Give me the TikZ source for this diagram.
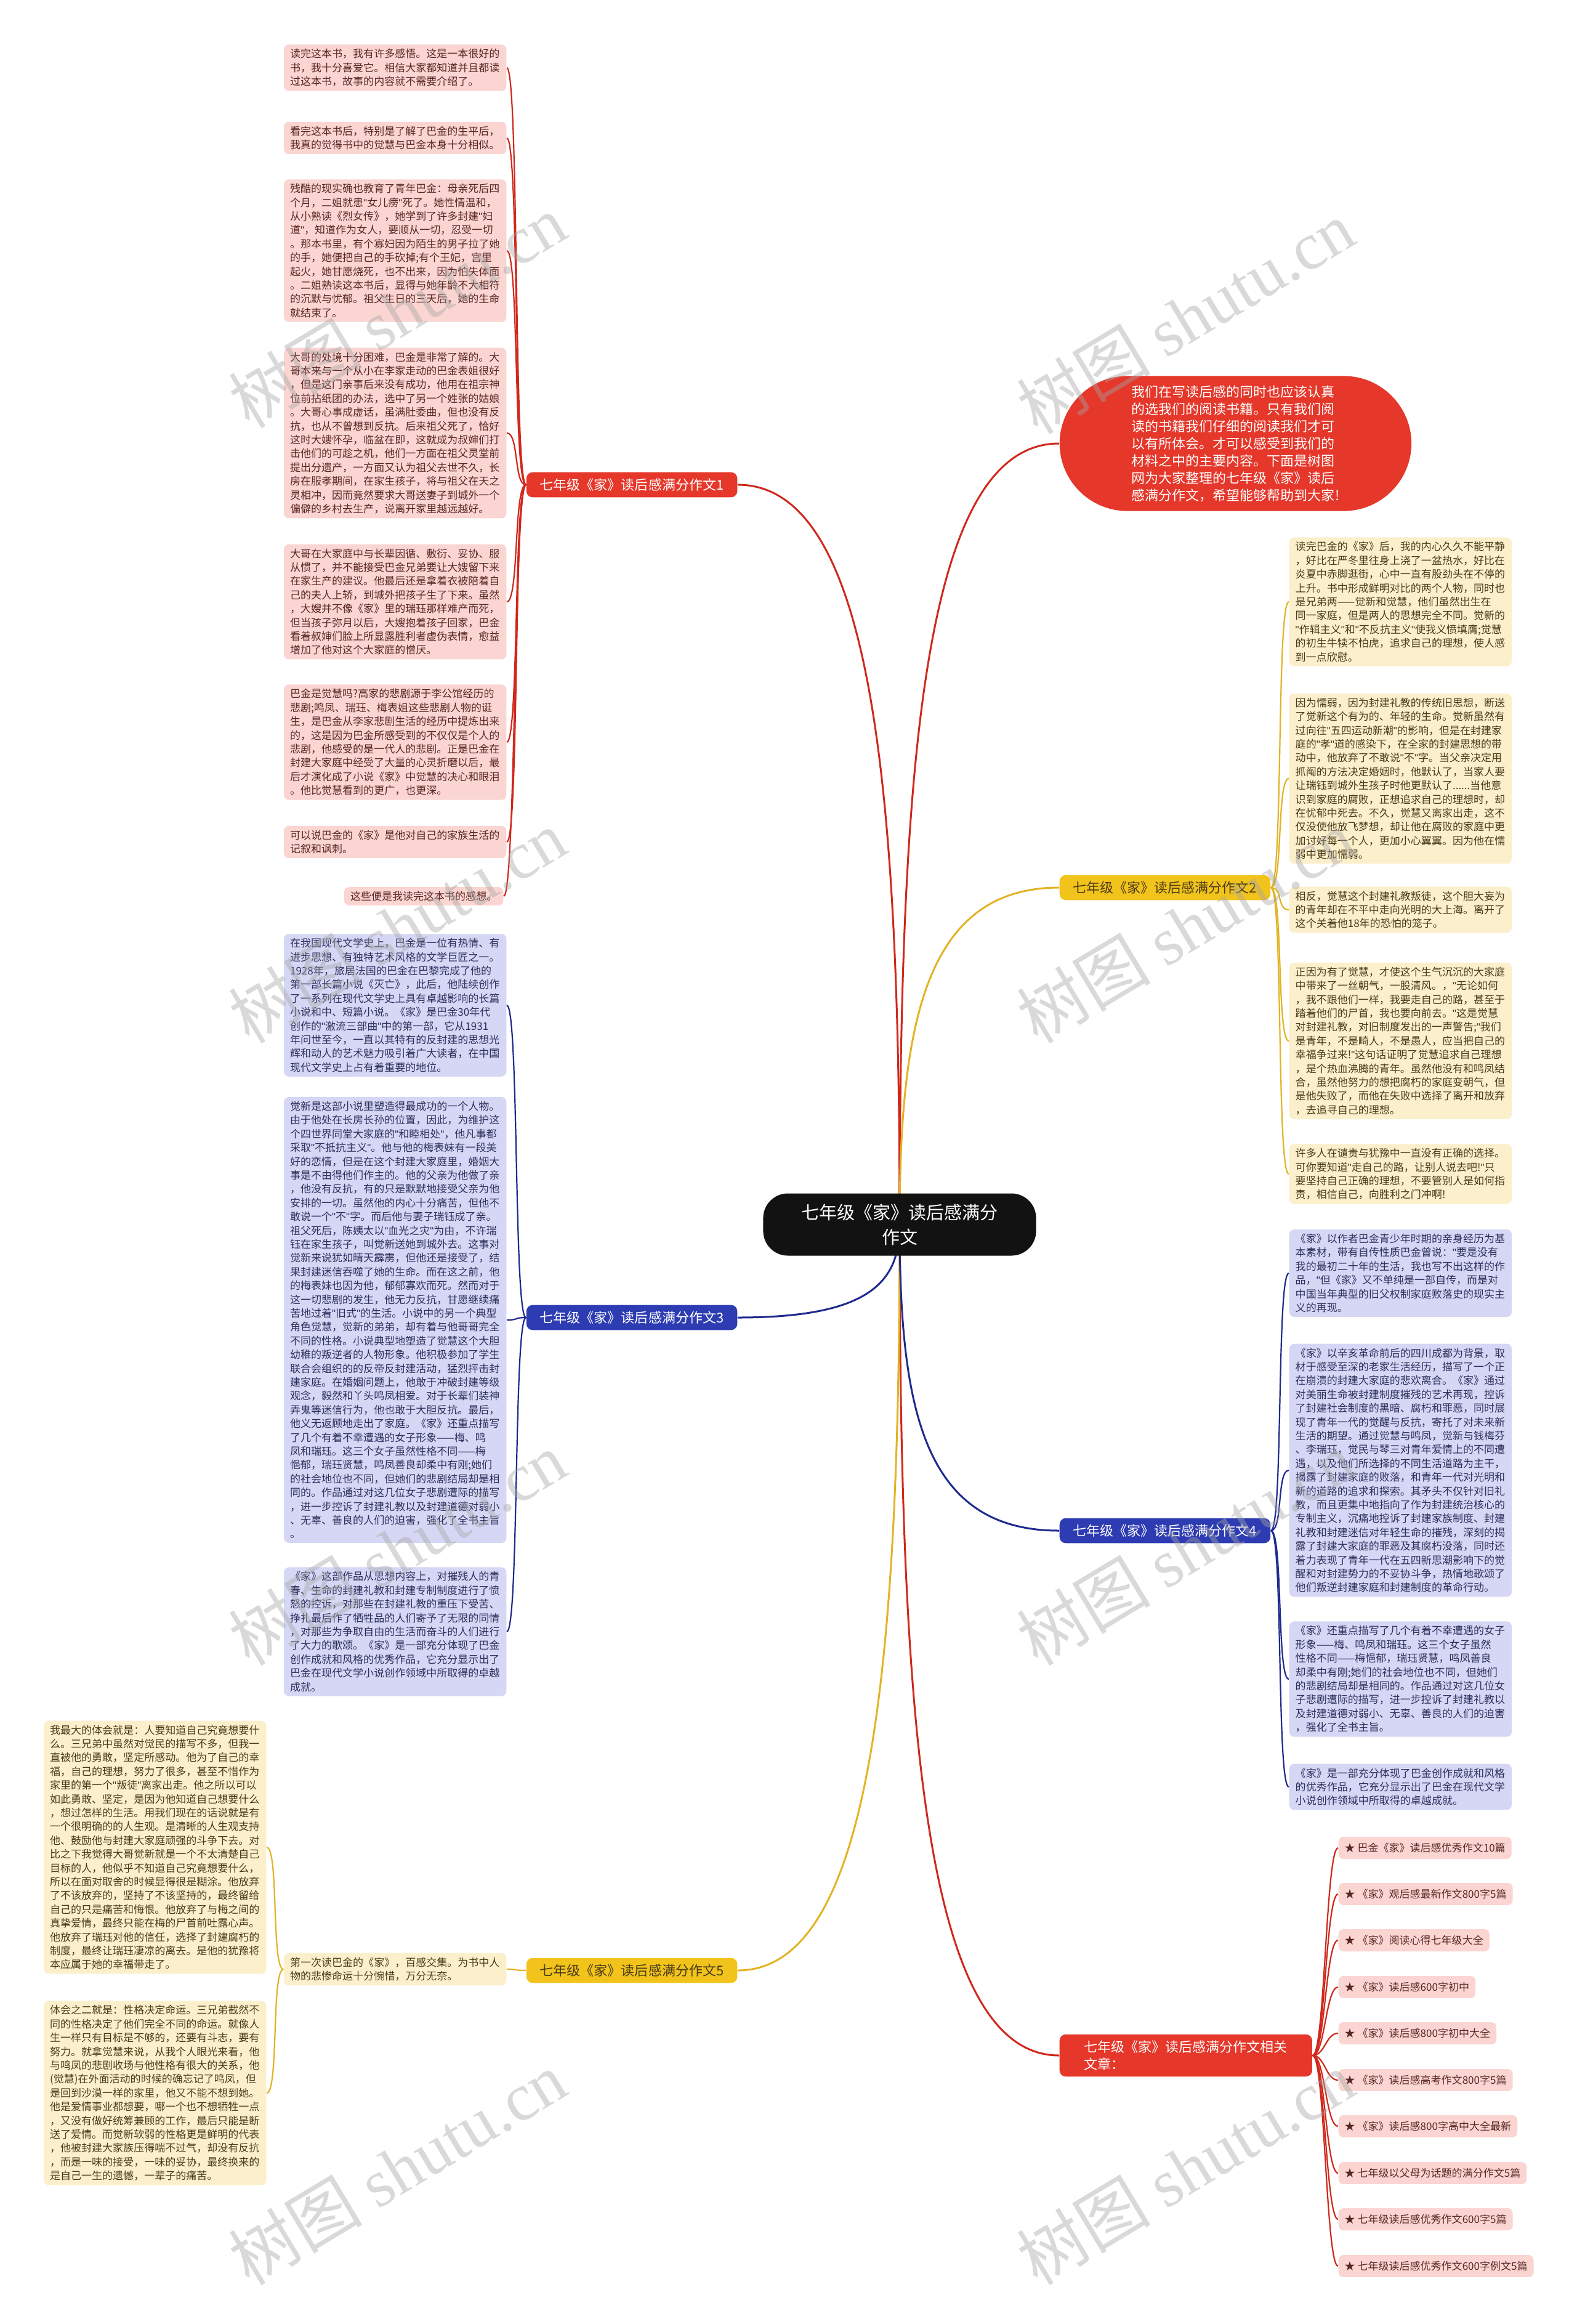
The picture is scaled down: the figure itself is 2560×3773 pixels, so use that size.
\documentclass[tikz,border=0pt]{standalone}
\usepackage{fontspec}
\setmainfont{Noto Sans CJK SC}
\newfontfamily\wmfont{Liberation Serif}
\newfontfamily\latinfont{Liberation Sans}
\usepackage{xcolor}
\usetikzlibrary{positioning,backgrounds}
\definecolor{hred}{HTML}{E5372A}
\definecolor{lred}{HTML}{D0281C}
\definecolor{pinkbg}{HTML}{FAD5D2}
\definecolor{pinktx}{HTML}{5A2724}
\definecolor{hblue}{HTML}{2E3CB3}
\definecolor{lblue}{HTML}{1E2B8E}
\definecolor{lilacbg}{HTML}{D5D7F5}
\definecolor{lilactx}{HTML}{2D2F5C}
\definecolor{hyellow}{HTML}{F2C31B}
\definecolor{lyellow}{HTML}{E3B324}
\definecolor{creambg}{HTML}{FCEFCB}
\definecolor{creamtx}{HTML}{4A3B17}
% narrow straight quote
\newcommand\qmark{{\latinfont\symbol{34}}}
{\catcode`\"=\active \gdef"{\qmark}}
\tikzset{
  txt/.style={rounded corners=0.08cm, inner xsep=0.1cm, inner ysep=0.07cm,
    align=left, text width=3.41cm, font=\fontsize{4.84}{6.37}\selectfont},
  pinkbox/.style={txt, fill=pinkbg, text=pinktx},
  lilacbox/.style={txt, fill=lilacbg, text=lilactx},
  creambox/.style={txt, fill=creambg, text=creamtx},
  branch/.style={rounded corners=0.1cm, inner xsep=0.22cm, inner ysep=0.1cm,
    font=\fontsize{6.26}{7.97}\selectfont},
  linkbox/.style={rounded corners=0.08cm, inner xsep=0.1cm, inner ysep=0.1cm,
    fill=pinkbg, text=pinktx, font=\fontsize{4.84}{6.37}\selectfont},
}

\begin{document}
\catcode`\"=\active
\begin{tikzpicture}[
x=0.01cm, y=-0.01cm,
kidl/.style={out=180, in=0, distance=0.2cm},
kidr/.style={out=0, in=180, distance=0.2cm},
mainline/.style={line width=0.03cm},
subline/.style={line width=0.022cm},
wmark/.style={text=black!35, opacity=0.42, rotate=31,
  font=\fontsize{31}{33}\selectfont}
]
\useasboundingbox (0,0) rectangle (2560,3773);

% centre and first level
\node[fill=black!93, text=white, rounded corners=0.4cm, inner xsep=0.62cm,
  inner ysep=0.17cm, align=center, font=\fontsize{8.25}{11.4}\selectfont]
  (root) at (1461,1988) {七年级《家》读后感满分\\作文};
\node[fill=hred, text=white, rounded corners=1.1cm, inner xsep=1.17cm,
  inner ysep=0.15cm, align=left, font=\fontsize{6.26}{7.97}\selectfont,
  anchor=west] (intro) at (1720,720)
  {我们在写读后感的同时也应该认真\\的选我们的阅读书籍。只有我们阅\\读的书籍我们仔细的阅读我们才可\\以有所体会。才可以感受到我们的\\材料之中的主要内容。下面是树图\\网为大家整理的七年级《家》读后\\感满分作文，希望能够帮助到大家!};
\node[branch, fill=hred, text=white, anchor=east] (b1) at (1198,787) {七年级《家》读后感满分作文1};
\node[branch, fill=hyellow, text=creamtx, anchor=west] (b2) at (1720,1441) {七年级《家》读后感满分作文2};
\node[branch, fill=hblue, text=white, anchor=east] (b3) at (1198,2139) {七年级《家》读后感满分作文3};
\node[branch, fill=hblue, text=white, anchor=west] (b4) at (1720,2485) {七年级《家》读后感满分作文4};
\node[branch, fill=hyellow, text=creamtx, anchor=east] (b5) at (1198,3199) {七年级《家》读后感满分作文5};
\node[branch, fill=hred, text=white, anchor=west, align=left, minimum width=4.1cm] (b6) at (1720,3337) {七年级《家》读后感满分作文相关\\文章：};

% branch 1
\node[pinkbox, anchor=east] (a1) at (823,110) {读完这本书，我有许多感悟。这是一本很好的\\书，我十分喜爱它。相信大家都知道并且都读\\过这本书，故事的内容就不需要介绍了。};
\node[pinkbox, anchor=east] (a2) at (823,224) {看完这本书后，特别是了解了巴金的生平后，\\我真的觉得书中的觉慧与巴金本身十分相似。};
\node[pinkbox, anchor=east] (a3) at (823,407) {残酷的现实确也教育了青年巴金：母亲死后四\\个月，二姐就患"女儿痨"死了。她性情温和，\\从小熟读《烈女传》，她学到了许多封建"妇\\道"，知道作为女人，要顺从一切，忍受一切\\。那本书里，有个寡妇因为陌生的男子拉了她\\的手，她便把自己的手砍掉;有个王妃，宫里\\起火，她甘愿烧死，也不出来，因为怕失体面\\。二姐熟读这本书后，显得与她年龄不大相符\\的沉默与忧郁。祖父生日的三天后，她的生命\\就结束了。};
\node[pinkbox, anchor=east] (a4) at (823,703) {大哥的处境十分困难，巴金是非常了解的。大\\哥本来与一个从小在李家走动的巴金表姐很好\\，但是这门亲事后来没有成功，他用在祖宗神\\位前拈纸团的办法，选中了另一个姓张的姑娘\\。大哥心事成虚话，虽满肚委曲，但也没有反\\抗，也从不曾想到反抗。后来祖父死了，恰好\\这时大嫂怀孕，临盆在即，这就成为叔婶们打\\击他们的可趁之机，他们一方面在祖父灵堂前\\提出分遗产，一方面又认为祖父去世不久，长\\房在服孝期间，在家生孩子，将与祖父在天之\\灵相冲，因而竟然要求大哥送妻子到城外一个\\偏僻的乡村去生产，说离开家里越远越好。};
\node[pinkbox, anchor=east] (a5) at (823,977) {大哥在大家庭中与长辈因循、敷衍、妥协、服\\从惯了，并不能接受巴金兄弟要让大嫂留下来\\在家生产的建议。他最后还是拿着衣被陪着自\\己的夫人上轿，到城外把孩子生了下来。虽然\\，大嫂并不像《家》里的瑞珏那样难产而死，\\但当孩子弥月以后，大嫂抱着孩子回家，巴金\\看着叔婶们脸上所显露胜利者虚伪表情，愈益\\增加了他对这个大家庭的憎厌。};
\node[pinkbox, anchor=east] (a6) at (823,1205) {巴金是觉慧吗?高家的悲剧源于李公馆经历的\\悲剧;鸣凤、瑞珏、梅表姐这些悲剧人物的诞\\生，是巴金从李家悲剧生活的经历中提炼出来\\的，这是因为巴金所感受到的不仅仅是个人的\\悲剧，他感受的是一代人的悲剧。正是巴金在\\封建大家庭中经受了大量的心灵折磨以后，最\\后才演化成了小说《家》中觉慧的决心和眼泪\\。他比觉慧看到的更广，也更深。};
\node[pinkbox, anchor=east] (a7) at (823,1367) {可以说巴金的《家》是他对自己的家族生活的\\记叙和讽刺。};
\node[pinkbox, text width=, anchor=east] (a8) at (818,1455) {这些便是我读完这本书的感想。};

% branch 3
\node[lilacbox, anchor=east] (c1) at (823,1632) {在我国现代文学史上，巴金是一位有热情、有\\进步思想、有独特艺术风格的文学巨匠之一。\\1928年，旅居法国的巴金在巴黎完成了他的\\第一部长篇小说《灭亡》，此后，他陆续创作\\了一系列在现代文学史上具有卓越影响的长篇\\小说和中、短篇小说。《家》是巴金30年代\\创作的"激流三部曲"中的第一部，它从1931\\年问世至今，一直以其特有的反封建的思想光\\辉和动人的艺术魅力吸引着广大读者，在中国\\现代文学史上占有着重要的地位。};
\node[lilacbox, anchor=east] (c2) at (823,2143) {觉新是这部小说里塑造得最成功的一个人物。\\由于他处在长房长孙的位置，因此，为维护这\\个四世界同堂大家庭的"和睦相处"，他凡事都\\采取"不抵抗主义"。他与他的梅表妹有一段美\\好的恋情，但是在这个封建大家庭里，婚姻大\\事是不由得他们作主的。他的父亲为他做了亲\\，他没有反抗，有的只是默默地接受父亲为他\\安排的一切。虽然他的内心十分痛苦，但他不\\敢说一个"不"字。而后他与妻子瑞钰成了亲。\\祖父死后，陈姨太以"血光之灾"为由，不许瑞\\钰在家生孩子，叫觉新送她到城外去。这事对\\觉新来说犹如晴天霹雳，但他还是接受了，结\\果封建迷信吞噬了她的生命。而在这之前，他\\的梅表妹也因为他，郁郁寡欢而死。然而对于\\这一切悲剧的发生，他无力反抗，甘愿继续痛\\苦地过着"旧式"的生活。小说中的另一个典型\\角色觉慧，觉新的弟弟，却有着与他哥哥完全\\不同的性格。小说典型地塑造了觉慧这个大胆\\幼稚的叛逆者的人物形象。他积极参加了学生\\联合会组织的的反帝反封建活动，猛烈抨击封\\建家庭。在婚姻问题上，他敢于冲破封建等级\\观念，毅然和丫头鸣凤相爱。对于长辈们装神\\弄鬼等迷信行为，他也敢于大胆反抗。最后，\\他义无返顾地走出了家庭。《家》还重点描写\\了几个有着不幸遭遇的女子形象——梅、鸣\\凤和瑞珏。这三个女子虽然性格不同——梅\\悒郁，瑞珏贤慧，鸣凤善良却柔中有刚;她们\\的社会地位也不同，但她们的悲剧结局却是相\\同的。作品通过对这几位女子悲剧遭际的描写\\，进一步控诉了封建礼教以及封建道德对弱小\\、无辜、善良的人们的迫害，强化了全书主旨\\。};
\node[lilacbox, anchor=east] (c3) at (823,2649) {《家》这部作品从思想内容上，对摧残人的青\\春、生命的封建礼教和封建专制制度进行了愤\\怒的控诉，对那些在封建礼教的重压下受苦、\\挣扎最后作了牺牲品的人们寄予了无限的同情\\，对那些为争取自由的生活而奋斗的人们进行\\了大力的歌颂。《家》是一部充分体现了巴金\\创作成就和风格的优秀作品，它充分显示出了\\巴金在现代文学小说创作领域中所取得的卓越\\成就。};

% branch 5
\node[creambox, anchor=east] (e1) at (823,3197) {第一次读巴金的《家》，百感交集。为书中人\\物的悲惨命运十分惋惜，万分无奈。};
\node[creambox, anchor=east] (e2) at (433,2999) {我最大的体会就是：人要知道自己究竟想要什\\么。三兄弟中虽然对觉民的描写不多，但我一\\直被他的勇敢，坚定所感动。他为了自己的幸\\福，自己的理想，努力了很多，甚至不惜作为\\家里的第一个"叛徒"离家出走。他之所以可以\\如此勇敢、坚定，是因为他知道自己想要什么\\，想过怎样的生活。用我们现在的话说就是有\\一个很明确的的人生观。是清晰的人生观支持\\他、鼓励他与封建大家庭顽强的斗争下去。对\\比之下我觉得大哥觉新就是一个不太清楚自己\\目标的人，他似乎不知道自己究竟想要什么，\\所以在面对取舍的时候显得很是糊涂。他放弃\\了不该放弃的，坚持了不该坚持的，最终留给\\自己的只是痛苦和悔恨。他放弃了与梅之间的\\真挚爱情，最终只能在梅的尸首前吐露心声。\\他放弃了瑞珏对他的信任，选择了封建腐朽的\\制度，最终让瑞珏凄凉的离去。是他的犹豫将\\本应属于她的幸福带走了。};
\node[creambox, anchor=east] (e3) at (433,3398) {体会之二就是：性格决定命运。三兄弟截然不\\同的性格决定了他们完全不同的命运。就像人\\生一样只有目标是不够的，还要有斗志，要有\\努力。就拿觉慧来说，从我个人眼光来看，他\\与鸣凤的悲剧收场与他性格有很大的关系，他\\(觉慧)在外面活动的时候的确忘记了鸣凤，但\\是回到沙漠一样的家里，他又不能不想到她。\\他是爱情事业都想要，哪一个也不想牺牲一点\\，又没有做好统筹兼顾的工作，最后只能是断\\送了爱情。而觉新软弱的性格更是鲜明的代表\\，他被封建大家族压得喘不过气，却没有反抗\\，而是一味的接受，一味的妥协，最终换来的\\是自己一生的遗憾，一辈子的痛苦。};

% branch 2
\node[creambox, anchor=west] (d1) at (2093,977) {读完巴金的《家》后，我的内心久久不能平静\\，好比在严冬里往身上浇了一盆热水，好比在\\炎夏中赤脚逛街，心中一直有股劲头在不停的\\上升。书中形成鲜明对比的两个人物，同时也\\是兄弟两——觉新和觉慧，他们虽然出生在\\同一家庭，但是两人的思想完全不同。觉新的\\"作辑主义"和"不反抗主义"使我义愤填膺;觉慧\\的初生牛犊不怕虎，追求自己的理想，使人感\\到一点欣慰。};
\node[creambox, anchor=west] (d2) at (2093,1264) {因为懦弱，因为封建礼教的传统旧思想，断送\\了觉新这个有为的、年轻的生命。觉新虽然有\\过向往"五四运动新潮"的影响，但是在封建家\\庭的"孝"道的感染下，在全家的封建思想的带\\动中，他放弃了不敢说"不"字。当父亲决定用\\抓阄的方法决定婚姻时，他默认了，当家人要\\让瑞钰到城外生孩子时他更默认了......当他意\\识到家庭的腐败，正想追求自己的理想时，却\\在忧郁中死去。不久，觉慧又离家出走，这不\\仅没使他放飞梦想，却让他在腐败的家庭中更\\加讨好每一个人，更加小心翼翼。因为他在懦\\弱中更加懦弱。};
\node[creambox, anchor=west] (d3) at (2093,1477) {相反，觉慧这个封建礼教叛徒，这个胆大妄为\\的青年却在不平中走向光明的大上海。离开了\\这个关着他18年的恐怕的笼子。};
\node[creambox, anchor=west] (d4) at (2093,1690) {正因为有了觉慧，才使这个生气沉沉的大家庭\\中带来了一丝朝气，一股清风。，"无论如何\\，我不跟他们一样，我要走自己的路，甚至于\\踏着他们的尸首，我也要向前去。"这是觉慧\\对封建礼教，对旧制度发出的一声警告;"我们\\是青年，不是畸人，不是愚人，应当把自己的\\幸福争过来!"这句话证明了觉慧追求自己理想\\，是个热血沸腾的青年。虽然他没有和鸣凤结\\合，虽然他努力的想把腐朽的家庭变朝气，但\\是他失败了，而他在失败中选择了离开和放弃\\，去追寻自己的理想。};
\node[creambox, anchor=west] (d5) at (2093,1906) {许多人在谴责与犹豫中一直没有正确的选择。\\可你要知道"走自己的路，让别人说去吧!"只\\要坚持自己正确的理想，不要管别人是如何指\\责，相信自己，向胜利之门冲啊!};

% branch 4
\node[lilacbox, anchor=west] (f1) at (2093,2067) {《家》以作者巴金青少年时期的亲身经历为基\\本素材，带有自传性质巴金曾说："要是没有\\我的最初二十年的生活，我也写不出这样的作\\品，"但《家》又不单纯是一部自传，而是对\\中国当年典型的旧父权制家庭败落史的现实主\\义的再现。};
\node[lilacbox, anchor=west] (f2) at (2093,2387) {《家》以辛亥革命前后的四川成都为背景，取\\材于感受至深的老家生活经历，描写了一个正\\在崩溃的封建大家庭的悲欢离合。《家》通过\\对美丽生命被封建制度摧残的艺术再现，控诉\\了封建社会制度的黑暗、腐朽和罪恶，同时展\\现了青年一代的觉醒与反抗，寄托了对未来新\\生活的期望。通过觉慧与鸣凤，觉新与钱梅芬\\、李瑞珏，觉民与琴三对青年爱情上的不同遭\\遇，以及他们所选择的不同生活道路为主干，\\揭露了封建家庭的败落，和青年一代对光明和\\新的道路的追求和探索。其矛头不仅针对旧礼\\教，而且更集中地指向了作为封建统治核心的\\专制主义，沉痛地控诉了封建家族制度、封建\\礼教和封建迷信对年轻生命的摧残，深刻的揭\\露了封建大家庭的罪恶及其腐朽没落，同时还\\着力表现了青年一代在五四新思潮影响下的觉\\醒和对封建势力的不妥协斗争，热情地歌颂了\\他们叛逆封建家庭和封建制度的革命行动。};
\node[lilacbox, anchor=west] (f3) at (2093,2726) {《家》还重点描写了几个有着不幸遭遇的女子\\形象——梅、鸣凤和瑞珏。这三个女子虽然\\性格不同——梅悒郁，瑞珏贤慧，鸣凤善良\\却柔中有刚;她们的社会地位也不同，但她们\\的悲剧结局却是相同的。作品通过对这几位女\\子悲剧遭际的描写，进一步控诉了封建礼教以\\及封建道德对弱小、无辜、善良的人们的迫害\\，强化了全书主旨。};
\node[lilacbox, anchor=west] (f4) at (2093,2901) {《家》是一部充分体现了巴金创作成就和风格\\的优秀作品，它充分显示出了巴金在现代文学\\小说创作领域中所取得的卓越成就。};

% related articles
\node[linkbox, anchor=west] (g1) at (2173,3000) {★ 巴金《家》读后感优秀作文10篇};
\node[linkbox, anchor=west] (g2) at (2173,3075) {★ 《家》观后感最新作文800字5篇};
\node[linkbox, anchor=west] (g3) at (2173,3150) {★ 《家》阅读心得七年级大全};
\node[linkbox, anchor=west] (g4) at (2173,3226) {★ 《家》读后感600字初中};
\node[linkbox, anchor=west] (g5) at (2173,3301) {★ 《家》读后感800字初中大全};
\node[linkbox, anchor=west] (g6) at (2173,3377) {★ 《家》读后感高考作文800字5篇};
\node[linkbox, anchor=west] (g7) at (2173,3452) {★ 《家》读后感800字高中大全最新};
\node[linkbox, anchor=west] (g8) at (2173,3528) {★ 七年级以父母为话题的满分作文5篇};
\node[linkbox, anchor=west] (g9) at (2173,3603) {★ 七年级读后感优秀作文600字5篇};
\node[linkbox, anchor=west] (g10) at (2173,3679) {★ 七年级读后感优秀作文600字例文5篇};

% connectors
\begin{scope}[on background layer]
\fill[white] (0,0) rectangle (2560,3773);
\path[lred, mainline] (root.center)
  edge[out=90, in=180, out distance=7.5cm, in distance=2.2cm] (intro.west)
  edge[out=90, in=0, out distance=7cm, in distance=2.2cm] (b1.east)
  edge[out=-90, in=180, out distance=8cm, in distance=2.2cm] (b6.west);
\path[lyellow, mainline] (root.center)
  edge[out=90, in=180, out distance=3.2cm, in distance=2.2cm] (b2.west)
  edge[out=-90, in=0, out distance=7cm, in distance=2.2cm] (b5.east);
\path[lblue, mainline] (root.center)
  edge[out=-90, in=0, out distance=0.9cm, in distance=2.2cm] (b3.east)
  edge[out=-90, in=180, out distance=3cm, in distance=2.2cm] (b4.west);
\end{scope}

\path[lred, subline] (b1.west)
  edge[kidl] (a1.east) edge[kidl] (a2.east) edge[kidl] (a3.east)
  edge[kidl] (a4.east) edge[kidl] (a5.east) edge[kidl] (a6.east)
  edge[kidl] (a7.east) edge[kidl] (a8.east);
\path[lblue, subline] (b3.west)
  edge[kidl] (c1.east) edge[kidl] (c2.east) edge[kidl] (c3.east);
\path[lyellow, subline] (b5.west) edge[kidl] (e1.east);
\path[lyellow, subline] (e1.west) edge[kidl] (e2.east) edge[kidl] (e3.east);
\path[lyellow, subline] (b2.east)
  edge[kidr] (d1.west) edge[kidr] (d2.west) edge[kidr] (d3.west)
  edge[kidr] (d4.west) edge[kidr] (d5.west);
\path[lblue, subline] (b4.east)
  edge[kidr] (f1.west) edge[kidr] (f2.west) edge[kidr] (f3.west)
  edge[kidr] (f4.west);
\path[lred, subline] (b6.east)
  edge[kidr] (g1.west) edge[kidr] (g2.west) edge[kidr] (g3.west)
  edge[kidr] (g4.west) edge[kidr] (g5.west) edge[kidr] (g6.west)
  edge[kidr] (g7.west) edge[kidr] (g8.west) edge[kidr] (g9.west)
  edge[kidr] (g10.west);

% watermark
\node[wmark] (w1) at (645,505) {树图 {\wmfont shutu.cn}};
\node[wmark] (w2) at (1925,515) {树图 {\wmfont shutu.cn}};
\node[wmark] (w3) at (645,1504) {树图 {\wmfont shutu.cn}};
\node[wmark] (w4) at (1925,1504) {树图 {\wmfont shutu.cn}};
\node[wmark] (w5) at (645,2514) {树图 {\wmfont shutu.cn}};
\node[wmark] (w6) at (1925,2514) {树图 {\wmfont shutu.cn}};
\node[wmark] (w7) at (645,3520) {树图 {\wmfont shutu.cn}};
\node[wmark] (w8) at (1925,3520) {树图 {\wmfont shutu.cn}};
\end{tikzpicture}
\end{document}
